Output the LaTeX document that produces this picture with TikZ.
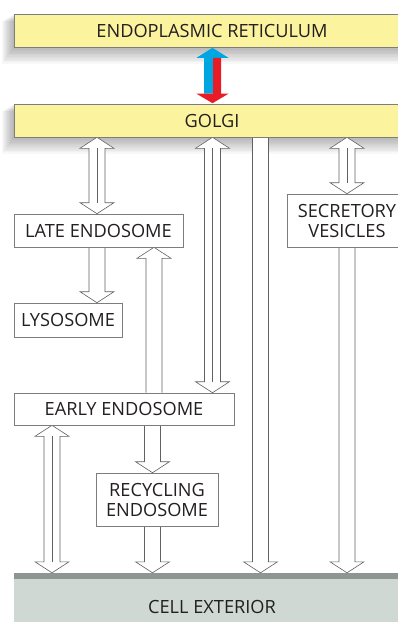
\documentclass[tikz,border=0pt]{standalone}
\usepackage{fontspec}
\setmainfont{Open Sans}
\usetikzlibrary{calc,backgrounds}
\definecolor{eryellow}{RGB}{252,243,158}
\definecolor{boxline}{RGB}{125,125,125}
\definecolor{extfill}{RGB}{207,216,211}
\definecolor{extline}{RGB}{143,150,145}
\definecolor{arrblue}{RGB}{0,166,226}
\definecolor{arrred}{RGB}{232,28,38}
\definecolor{txt}{RGB}{35,31,32}
\tikzset{
  box/.style={draw=boxline, line width=0.6pt, fill=white, inner sep=0pt, align=center,
    font=\fontsize{18.2}{20}\selectfont, text=txt},
  organelle/.style={box, fill=eryellow},
  harrow/.style={draw=black!62, line width=0.6pt, fill=white, line join=miter},
  harrowline/.style={draw=black!62, line width=0.6pt},
}
% hollow down arrow: #1 start (top), #2 tip (bottom)
\newcommand\hdown[2]{%
  \path[harrow] let \p1=#1, \p2=#2 in
    (\x1-8pt,\y1) -- (\x1-8pt,\y2+11pt) -- (\x1-17pt,\y2+11pt) -- (\x1,\y2)
    -- (\x1+17pt,\y2+11pt) -- (\x1+8pt,\y2+11pt) -- (\x1+8pt,\y1);}
% hollow up arrow: #1 start (bottom), #2 tip (top)
\newcommand\hup[2]{%
  \path[harrow] let \p1=#1, \p2=#2 in
    (\x1-8pt,\y1) -- (\x1-8pt,\y2-11pt) -- (\x1-17pt,\y2-11pt) -- (\x1,\y2)
    -- (\x1+17pt,\y2-11pt) -- (\x1+8pt,\y2-11pt) -- (\x1+8pt,\y1);}
% hollow double arrow: #1 top tip, #2 bottom tip
\newcommand\hboth[2]{%
  \path[harrow] let \p1=#1, \p2=#2 in
    (\x1,\y1) -- (\x1+17pt,\y1-11pt) -- (\x1+8pt,\y1-11pt) -- (\x1+8pt,\y2+11pt)
    -- (\x1+17pt,\y2+11pt) -- (\x1,\y2) -- (\x1-17pt,\y2+11pt) -- (\x1-8pt,\y2+11pt)
    -- (\x1-8pt,\y1-11pt) -- (\x1-17pt,\y1-11pt) -- cycle;
  \path[harrowline] let \p1=#1, \p2=#2 in (\x1,\y1-11pt) -- (\x1,\y2+11pt);}
\begin{document}
\begin{tikzpicture}[x=1pt,y=-1pt]
\useasboundingbox (0,0) rectangle (398,623);
\clip (0,0) rectangle (398,623);
% x positions
\coordinate (c52) at (52,0);
\coordinate (c97) at (97,0);
\coordinate (c153) at (152.5,0);
\coordinate (c154) at (154,0);
\coordinate (c212) at (212.5,0);
\coordinate (c260) at (260.5,0);
\coordinate (c347) at (347,0);
% boxes
\node[organelle, minimum width=396, minimum height=33] (er) at (212,30.5) {ENDOPLASMIC RETICULUM};
\node[organelle, minimum width=396, minimum height=33] (golgi) at (212,120.5) {GOLGI};
\node[box, minimum width=169, minimum height=33] (late) at (98.5,230.5) {LATE ENDOSOME};
\node[box, minimum width=108, minimum height=34] (lyso) at (68,320) {LYSOSOME};
\node[box, minimum width=220, minimum height=32] (early) at (124,409) {EARLY ENDOSOME};
\node[box, minimum width=122, minimum height=53] (recyc) at (157,499.5) {RECYCLING\\ENDOSOME};
\node[box, minimum width=120, minimum height=53] (secr) at (347,220.5) {SECRETORY\\VESICLES};
\node[fill=extfill, minimum width=396, minimum height=49, inner sep=0pt] (ext) at (212,597.5) {};
\fill[extline] (ext.north west) rectangle ($(ext.north east)+(0,6)$);
\node[font=\fontsize{18.2}{20}\selectfont, text=txt, inner sep=0pt] (extlabel) at (212,607) {CELL EXTERIOR};
\begin{scope}[on background layer]
  % shadows
  \foreach \i in {1,...,12} {
    \fill[black, opacity=0.028] (14-\i*1.0, 14+\i*0.6) rectangle (410, 47+\i*1.4);
    \fill[black, opacity=0.028] (14-\i*1.0, 104+\i*0.6) rectangle (410, 137+\i*1.4);
  }
  % hollow arrows
  \hboth{(golgi.south -| c97)}{(late.north -| c97)}
  \hdown{(late.south -| c97)}{(lyso.north -| c97)}
  \hup{(early.north -| c154)}{(late.south -| c154)}
  \hboth{(golgi.south -| c212)}{(early.north -| c212)}
  \hdown{(golgi.south -| c260)}{(ext.north -| c260)}
  \hboth{(golgi.south -| c347)}{(secr.north -| c347)}
  \hdown{(secr.south -| c347)}{(ext.north -| c347)}
  \hboth{(early.south -| c52)}{(ext.north -| c52)}
  \hdown{(early.south -| c153)}{(recyc.north -| c153)}
  \hdown{(recyc.south -| c153)}{(ext.north -| c153)}
\end{scope}
% ER <-> Golgi coloured arrow
\fill[arrblue] let \p1=(er.south -| c212), \p2=(golgi.north -| c212) in
  (\x1,\y1-0.5pt) -- (\x1+16pt,\y1-10.5pt) -- (\x1+0.5pt,\y1-10.5pt) -- (\x1+0.5pt,\y2+10pt)
  -- (\x1-8.5pt,\y2+10pt) -- (\x1-8.5pt,\y1-10.5pt) -- (\x1-16pt,\y1-10.5pt) -- cycle;
\fill[arrred] let \p1=(er.south -| c212), \p2=(golgi.north -| c212) in
  (\x1+0.5pt,\y1-10.5pt) -- (\x1+8.5pt,\y1-10.5pt) -- (\x1+8.5pt,\y2+10pt) -- (\x1+16pt,\y2+10pt)
  -- (\x1,\y2+0.5pt) -- (\x1-16pt,\y2+10pt) -- (\x1+0.5pt,\y2+10pt) -- cycle;
\end{tikzpicture}
\end{document}
